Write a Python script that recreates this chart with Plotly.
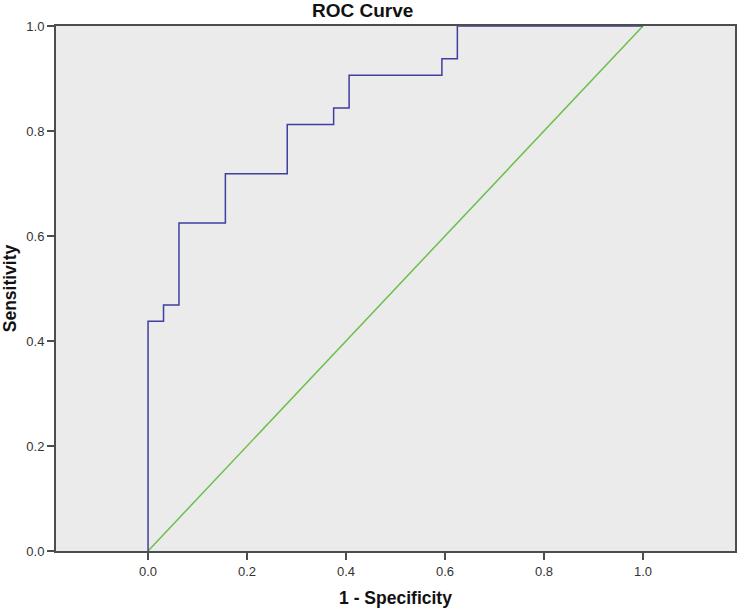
import plotly.graph_objects as go

# ROC curve step points (1 - specificity, sensitivity)
fpr = [0.0, 0.0, 0.03125, 0.0625, 0.15625, 0.28125, 0.375, 0.40625, 0.59375, 0.625, 1.0]
tpr = [0.0, 0.4375, 0.46875, 0.625, 0.71875, 0.8125, 0.84375, 0.90625, 0.9375, 1.0, 1.0]

# reference line
ref_x = [0.0, 1.0]
ref_y = [0.0, 1.0]

x_ticks = [0.0, 0.2, 0.4, 0.6, 0.8, 1.0]
y_ticks = [0.0, 0.2, 0.4, 0.6, 0.8, 1.0]

fig = go.Figure()
fig.add_trace(go.Scatter(x=ref_x, y=ref_y, mode="lines",
                         line=dict(color="#6cbf4a", width=1.5), showlegend=False))
fig.add_trace(go.Scatter(x=fpr, y=tpr, mode="lines", line_shape="hv",
                         line=dict(color="#3f3fa0", width=1.5), showlegend=False))

font_family = "Liberation Sans, Arial, sans-serif"

fig.update_layout(
    width=738, height=611,
    margin=dict(l=56, r=3, t=26, b=60),
    paper_bgcolor="white",
    plot_bgcolor="#ebebeb",
    font=dict(family=font_family, color="#333333", size=13),
    showlegend=False,
)

fig.update_xaxes(
    range=[-0.186, 1.186], automargin=False,
    tickvals=x_ticks, ticktext=[f"{v:.1f}" for v in x_ticks],
    showgrid=False, zeroline=False,
    showline=True, linecolor="#4d4d4d", linewidth=2, mirror=True,
    ticks="outside", ticklen=7, tickwidth=2, tickcolor="#4d4d4d",
    title=dict(text="<b>1 - Specificity</b>", font=dict(size=17.5, color="#111111", family=font_family), standoff=14),
)
fig.update_yaxes(
    range=[0, 1], automargin=False,
    tickvals=y_ticks, ticktext=[f"{v:.1f}" for v in y_ticks],
    showgrid=False, zeroline=False,
    showline=True, linecolor="#4d4d4d", linewidth=2, mirror=True,
    ticks="outside", ticklen=7, tickwidth=2, tickcolor="#4d4d4d",
    title=dict(text="<b>Sensitivity</b>", font=dict(size=17.5, color="#111111", family=font_family), standoff=6),
)

fig.add_annotation(
    text="<b>ROC Curve</b>", xref="paper", yref="paper",
    x=(362 - 56) / (738 - 56 - 3), y=1, xanchor="center", yanchor="bottom",
    yshift=3, showarrow=False,
    font=dict(size=19, color="#111111", family=font_family),
)

fig.write_html(
    "out.html",
    config={"displayModeBar": False},
    post_script="document.body.style.margin='0';document.body.style.overflow='hidden';",
)
